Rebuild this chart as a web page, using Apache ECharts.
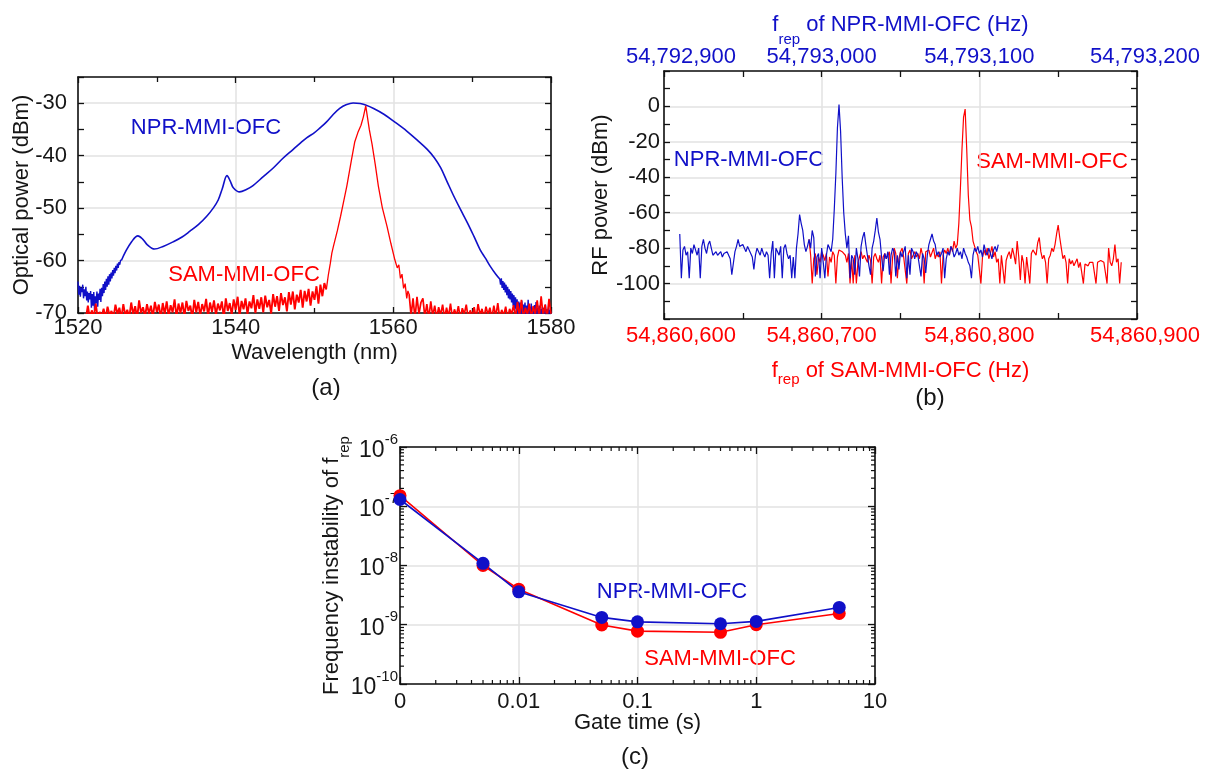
<!DOCTYPE html>
<html><head><meta charset="utf-8">
<script src="https://cdn.jsdelivr.net/npm/echarts@6/dist/echarts.min.js"></script>
<style>html,body{margin:0;padding:0;background:#fff}#c{width:1210px;height:774px}</style>
</head><body><div id="c"></div><script>
// ---------- (a) optical spectra ----------
const nprLeftStart = 1520.0;
const nprNoiseStep = 0.1;
const nprLeftNoise = [-64.0,-66.5,-64.8,-66.9,-65.2,-66.0,-64.6,-67.2,-65.5,-66.8,
 -65.0,-67.6,-65.9,-68.0,-66.2,-67.4,-65.8,-69.0,-66.4,-68.6,
 -66.0,-69.5,-66.8,-68.2,-65.9,-68.8,-66.3,-67.5,-65.4,-67.9,
 -65.2,-66.8,-64.5,-66.2,-64.0,-65.6,-63.5,-65.0,-63.0,-64.6,
 -62.6,-64.0,-62.3,-63.4,-61.8,-62.9,-61.4,-62.4,-61.0,-61.9,
 -60.6,-61.4,-60.3,-60.8,-59.9,-60.0];
const nprBodyNm = [1525.5,1526.0,1526.8,1527.6,1528.2,1528.8,1529.7,1530.8,1532.1,1533.2,1534.2,1535.3,1536.3,1537.2,1537.8,1538.3,1538.9,1539.3,1539.7,1540.5,1541.3,1542.2,1543.5,1544.8,1546.0,1547.3,1548.2,1549.0,1550.0,1550.7,1551.5,1552.4,1553.2,1554.0,1554.9,1555.8,1556.4,1557.5,1558.8,1560.2,1561.7,1563.0,1564.3,1565.2,1566.0,1566.8,1567.6,1568.5,1569.4,1570.2,1571.0,1571.7,1572.3,1573.0,1573.5];
const nprBodyDbm = [-60.0,-58.4,-56.4,-55.3,-55.9,-57.0,-57.8,-57.3,-56.4,-55.5,-54.4,-53.1,-51.6,-49.9,-48.4,-46.3,-43.8,-44.8,-46.1,-46.9,-46.5,-45.7,-44.0,-42.3,-40.5,-38.8,-37.6,-36.6,-35.6,-34.7,-33.6,-32.1,-31.0,-30.3,-29.95,-30.05,-30.3,-31.0,-32.1,-33.6,-35.3,-37.0,-38.8,-40.4,-42.3,-44.9,-47.5,-50.2,-52.8,-55.3,-57.9,-59.6,-61.1,-62.6,-63.5];
const nprRightStart = 1573.5;
const nprRightNoise = [-63.5,-64.6,-63.4,-65.2,-63.9,-65.6,-64.2,-66.1,-64.6,-66.6,
 -65.0,-67.2,-65.5,-67.4,-65.8,-68.0,-66.3,-68.6,-66.6,-69.2,
 -67.0,-69.8,-67.4,-70.5,-67.8,-71.0,-68.0,-70.6,-67.6,-71.0,
 -68.4,-70.2,-68.0,-71.0,-68.6,-70.8,-67.5,-70.5,-68.8,-71.0,
 -68.2,-70.4,-69.0,-71.0,-68.5,-70.6,-67.9,-71.0,-69.0,-70.5,
 -68.6,-71.0,-69.2,-70.8,-68.8,-71.0,-69.0,-70.4,-68.4,-71.0,
 -69.3,-70.6,-68.9,-71.0,-69.4,-70.2];
const samFloorStep = 0.25;
const samLeftStart = 1521.0;
const samLeftFloor = [-71,-68.6,-71,-69.5,-70.8,-68.2,-71,-69.8,
 -70.6,-69.2,-71,-68.8,-70.4,-69.6,-71,-68.4,
 -70.2,-69.0,-71,-68.3,-70.5,-69.4,-70.9,-68.0,
 -70.3,-68.7,-71,-67.6,-70.0,-68.9,-70.7,-68.3,
 -70.1,-68.6,-70.8,-67.9,-69.8,-68.4,-71,-68.1,
 -70.2,-67.8,-70.6,-68.5,-69.9,-67.4,-70.8,-68.2,
 -70.0,-68.0,-70.7,-67.7,-69.6,-68.6,-71,-67.5,
 -69.9,-67.9,-70.5,-68.3,-69.7,-67.3,-70.6,-68.0,
 -69.8,-67.6,-70.4,-68.2,-69.5,-67.8,-70.9,-67.2,
 -69.6,-68.1,-70.3,-67.4,-69.4,-66.9,-70.5,-67.7,
 -69.3,-67.2,-70.2,-67.8,-69.1,-66.6,-70.0,-67.4,
 -69.2,-67.0,-69.9,-66.7,-68.9,-67.5,-70.1,-66.4,
 -68.8,-66.8,-69.6,-66.2,-68.5,-67.0,-69.7,-66.0,
 -68.4,-65.9,-69.3,-66.5,-68.0,-65.6,-69.0,-65.8,
 -67.8,-65.4,-68.6,-65.9,-67.5,-64.9,-68.2,-64.6,
 -66.8,-64.3,-65.5];
const samPeakNm = [1551.5,1551.75,1552.0,1552.2,1552.4,1552.9,1553.3,1553.7,1554.1,1554.7,1555.1,1555.5,1555.9,1556.2,1556.5,1556.7,1556.95,1557.3,1557.7,1558.1,1558.6,1559.2,1559.7,1560.2,1560.5,1560.7,1560.9,1561.1,1561.3,1561.5,1561.7,1561.85,1562.0];
const samPeakDbm = [-65.5,-62.8,-60.6,-58.6,-57.3,-54.3,-51.6,-48.7,-45.8,-40.7,-37.4,-35.6,-34.2,-32.6,-30.5,-30.6,-35.0,-37.8,-41.6,-45.8,-49.9,-53.5,-56.8,-59.9,-61.4,-60.8,-63.4,-62.6,-65.3,-64.4,-67.2,-65.8,-66.4];
const samRightStart = 1562.0;
const samRightFloor = [-66.4,-70.5,-67.2,-71,-66.9,-70.2,-68.0,-67.2,
 -70.8,-68.3,-71,-67.8,-70.6,-68.6,-71,-68.9,
 -70.4,-68.4,-71,-69.0,-70.7,-68.2,-71,-69.3,
 -70.5,-68.7,-71,-69.1,-70.2,-68.4,-71,-69.5,
 -70.6,-68.9,-71,-68.3,-70.4,-69.2,-71,-68.8,
 -70.3,-69.0,-71,-68.6,-70.7,-68.1,-71,-69.4,
 -70.5,-68.8,-71,-69.2,-70.2,-68.5,-71,-67.9,
 -70.6,-67.5,-71,-69.0,-70.4,-68.2,-71,-68.7,
 -70.3,-67.6,-71,-66.8,-70.5,-68.4,-71,-67.3,
 -70.2];
const wlTicks = {min: 1520, max: 1580};
const opTicks = {min: -70, max: -25};

// ---------- (b) RF spectra ----------
const rfStepHz = 1;
const nprRfStartHz = 54792910;
const nprRfDbm = [-72,-97,-81,-79,-84,-82,-97,-80,-83,-78,
 -81,-84,-80,-97,-79,-75,-80,-83,-78,-76,
 -80,-84,-83,-82,-84,-83,-82,-85,-83,-84,
 -82,-83,-86,-95,-94,-82,-79,-75,-79,-78,
 -78,-80,-82,-79,-81,-83,-85,-92,-84,-80,
 -82,-84,-80,-83,-85,-82,-84,-97,-83,-76,
 -97,-80,-82,-84,-79,-97,-80,-78,-83,-86,
 -84,-97,-85,-97,-80,-72,-61,-66,-70,-78,
 -82,-79,-75,-80,-70,-74,-96,-85,-83,-97,
 -80,-88,-97,-84,-78,-78,-82,-75,-58,-38,
 -12,1,-14,-40,-60,-72,-80,-73,-97,-84,
 -86,-95,-80,-86,-96,-79,-74,-71,-78,-84,
 -90,-95,-80,-76,-70,-63,-71,-75,-85,-93,
 -83,-86,-82,-95,-84,-80,-82,-96,-84,-92,
 -82,-85,-82,-79,-97,-84,-95,-80,-82,-86,
 -82,-84,-85,-96,-83,-86,-94,-84,-78,-75,
 -72,-76,-78,-84,-82,-85,-83,-80,-97,-86,
 -82,-84,-79,-81,-85,-83,-80,-84,-82,-86,
 -80,-83,-85,-88,-90,-97,-84,-80,-82,-79,
 -83,-81,-85,-78,-82,-84,-80,-83,-86,-81,
 -79,-82,-78];
const samRfStartHz = 54860692;
const samRfDbm = [-75,-84,-100,-86,-83,-95,-85,-88,
 -82,-84,-87,-83,-96,-85,-88,-82,-84,-100,
 -85,-81,-81,-82,-81,-84,-88,-83,-100,-86,
 -100,-84,-100,-88,-85,-82,-86,-84,-85,-88,
 -84,-87,-100,-85,-83,-86,-88,-84,-100,-85,
 -83,-86,-84,-82,-100,-85,-80,-83,-97,-86,
 -82,-80,-85,-84,-100,-83,-81,-86,-84,-82,
 -85,-83,-86,-80,-84,-100,-82,-83,-81,-85,
 -84,-80,-86,-83,-85,-82,-100,-84,-81,-83,
 -80,-84,-79,-82,-76,-80,-78,-66,-46,-24,
 -6,-1.5,-24,-50,-64,-68,-76,-79,-82,-84,
 -83,-100,-85,-81,-84,-80,-86,-83,-79,-85,
 -82,-88,-86,-100,-84,-83,-100,-87,-84,-82,
 -86,-80,-84,-89,-76,-85,-98,-84,-88,-100,
 -85,-86,-100,-83,-81,-80,-84,-77,-74,-82,
 -86,-84,-88,-100,-86,-84,-80,-82,-78,-72,
 -67,-74,-80,-86,-84,-88,-100,-86,-89,-87,
 -90,-88,-86,-91,-88,-87,-100,-89,-88,-90,
 -88,-88,-88,-89,-100,-88,-88,-87,-88,-88,
 -88,-100,-80,-88,-90,-86,-78,-88,-86,-100,
 -88];
const nprFreqAxis = {min: 54792900, max: 54793200};
const samFreqAxis = {min: 54860600, max: 54860900};
const rfAxis = {min: -120, max: 20};

// ---------- (c) frequency instability ----------
const gateTimes = [0.001, 0.005, 0.01, 0.05, 0.1, 0.5, 1, 5];
const nprInstab = [1.30e-7, 1.09e-8, 3.6e-9, 1.33e-9, 1.12e-9, 1.04e-9, 1.14e-9, 1.96e-9];
const samInstab = [1.51e-7, 1.0e-8, 3.98e-9, 9.9e-10, 7.8e-10, 7.45e-10, 1.0e-9, 1.55e-9];
const logMinorMult = [2,3,4,5,6,7,8,9];
const gateDecades = [0.001, 0.01, 0.1, 1];
const instabDecades = [1e-10, 1e-9, 1e-8, 1e-7];

// ---------- helpers ----------
const seq = (start, step, vals) => vals.map((v, i) => [+(start + i * step).toFixed(3), v]);
const pairs = (xs, ys) => xs.map((x, i) => [x, ys[i]]);

const BLUE = '#1010c8', RED = '#ff0000', TXT = '#161616', GRIDC = '#e2e2e2', AX = '#111';
const FONT = '"Liberation Sans", Arial, sans-serif';
const aLine = {show: true, onZero: false, lineStyle: {color: AX, width: 1.6}};
const tick = (len) => ({show: true, inside: true, length: len, lineStyle: {color: AX, width: 1.3}});
const minor = (len) => ({show: true, splitNumber: 2, length: len, lineStyle: {color: AX, width: 1.3}});
const split = {show: true, lineStyle: {color: GRIDC, width: 1.5}};
const noLbl = {show: false};
const lbl = (extra) => Object.assign({fontSize: 22, color: TXT, fontFamily: FONT}, extra);
const nameSt = (extra) => Object.assign({fontSize: 22, color: TXT, fontFamily: FONT}, extra);
const hzFmt = (ax) => (v) => {
  const s = v.toLocaleString('en-US');
  if (v === ax.min) return '{first|' + s + '}';
  if (v === ax.max) return '{last|' + s + '}';
  return s;
};
const hzRich = (color) => ({first: {fontSize: 22, color, padding: [0, 0, 0, 34]}, last: {fontSize: 22, color, padding: [0, 0, 0, 16]}});

const minorData = [];
gateDecades.forEach(d => logMinorMult.forEach(m => minorData.push([d * m, 1e-10, 0])));
instabDecades.forEach(d => logMinorMult.forEach(m => minorData.push([0.001, d * m, 1])));

const chart = echarts.init(document.getElementById('c'), null, {renderer: 'canvas'});
chart.setOption({
  backgroundColor: '#fff',
  animation: false,
  textStyle: {fontFamily: FONT},
  grid: [
    {left: 78, top: 77, width: 473, height: 236},
    {left: 664, top: 71, width: 473, height: 248},
    {left: 400, top: 447, width: 475, height: 237}
  ],
  xAxis: [
    {gridIndex: 0, type: 'value', position: 'bottom', min: wlTicks.min, max: wlTicks.max, interval: 20,
     axisLine: aLine, axisTick: tick(6), minorTick: minor(5), splitLine: split,
     axisLabel: lbl({margin: 4, formatter: v => String(v)}),
     name: 'Wavelength (nm)', nameLocation: 'middle', nameGap: 29, nameMoveOverlap: false, nameTextStyle: nameSt()},
    {gridIndex: 0, type: 'value', position: 'top', min: wlTicks.min, max: wlTicks.max, interval: 20,
     axisLine: aLine, axisTick: tick(6), minorTick: minor(5), splitLine: {show: false}, axisLabel: noLbl},
    {gridIndex: 1, type: 'value', position: 'bottom', min: samFreqAxis.min, max: samFreqAxis.max, interval: 100,
     axisLine: aLine, axisTick: tick(6), minorTick: minor(6), splitLine: split,
     axisLabel: lbl({color: RED, margin: 6, formatter: hzFmt(samFreqAxis), rich: hzRich(RED)}),
     name: '{m|f}{s|rep}{m| of SAM-MMI-OFC (Hz)}', nameLocation: 'middle', nameGap: 41, nameMoveOverlap: false,
     nameTextStyle: nameSt({color: RED, rich: {m: {fontSize: 22, lineHeight: 22, verticalAlign: 'top', color: RED}, s: {fontSize: 15, lineHeight: 40, color: RED}}})},
    {gridIndex: 1, type: 'value', position: 'top', min: nprFreqAxis.min, max: nprFreqAxis.max, interval: 100,
     axisLine: aLine, axisTick: tick(6), minorTick: minor(6), splitLine: {show: false},
     axisLabel: lbl({color: BLUE, margin: 3, formatter: hzFmt(nprFreqAxis), rich: hzRich(BLUE)}),
     name: '{m|f}{s|rep}{m| of NPR-MMI-OFC (Hz)}', nameLocation: 'middle', nameGap: 5, nameMoveOverlap: false,
     nameTextStyle: nameSt({color: BLUE, rich: {m: {fontSize: 22, lineHeight: 22, verticalAlign: 'top', color: BLUE}, s: {fontSize: 15, lineHeight: 52, color: BLUE}}})},
    {gridIndex: 2, type: 'log', logBase: 10, position: 'bottom', min: 0.001, max: 10,
     axisLine: aLine, axisTick: tick(7), splitLine: split,
     axisLabel: lbl({margin: 7, formatter: v => { const e = Math.round(Math.log10(v)); return e === -3 ? '0' : (e < 0 ? Math.pow(10, e).toFixed(-e) : String(Math.pow(10, e))); }}),
     name: 'Gate time (s)', nameLocation: 'middle', nameGap: 28, nameMoveOverlap: false, nameTextStyle: nameSt()},
    {gridIndex: 2, type: 'log', logBase: 10, position: 'top', min: 0.001, max: 10,
     axisLine: aLine, axisTick: tick(7), splitLine: {show: false}, axisLabel: noLbl}
  ],
  yAxis: [
    {gridIndex: 0, type: 'value', position: 'left', min: opTicks.min, max: opTicks.max, interval: 5,
     axisLine: aLine, axisTick: tick(6), splitLine: {show: false},
     axisLabel: lbl({margin: 11, formatter: v => (v % 10 === 0 ? String(v) : '')}),
     name: 'Optical power (dBm)', nameLocation: 'middle', nameGap: 45, nameMoveOverlap: false, nameTextStyle: nameSt()},
    {gridIndex: 0, type: 'value', position: 'left', min: opTicks.min, max: opTicks.max, interval: 10,
     axisLine: {show: false}, axisTick: {show: false}, axisLabel: noLbl, splitLine: split},
    {gridIndex: 0, type: 'value', position: 'right', min: opTicks.min, max: opTicks.max, interval: 5,
     axisLine: aLine, axisTick: tick(6), splitLine: {show: false}, axisLabel: noLbl},
    {gridIndex: 1, type: 'value', position: 'left', min: rfAxis.min, max: rfAxis.max, interval: 20,
     axisLine: aLine, axisTick: tick(6), minorTick: minor(6), splitLine: split,
     axisLabel: lbl({margin: 4, formatter: v => (v === rfAxis.min || v === rfAxis.max ? '' : String(v))}),
     name: 'RF power (dBm)', nameLocation: 'middle', nameGap: 52, nameMoveOverlap: false, nameTextStyle: nameSt()},
    {gridIndex: 1, type: 'value', position: 'right', min: rfAxis.min, max: rfAxis.max, interval: 20,
     axisLine: aLine, axisTick: tick(6), minorTick: minor(6), splitLine: {show: false}, axisLabel: noLbl},
    {gridIndex: 2, type: 'log', logBase: 10, position: 'left', min: 1e-10, max: 1e-6,
     axisLine: aLine, axisTick: tick(7), splitLine: split,
     axisLabel: lbl({margin: 2, formatter: v => '{b|10}{e|' + Math.round(Math.log10(v)) + '}',
       rich: {b: {fontSize: 23, lineHeight: 30, verticalAlign: 'bottom', color: TXT}, e: {fontSize: 15, lineHeight: 15, verticalAlign: 'top', color: TXT}}}),
     name: '{m|Frequency instability of f}{s|rep}', nameLocation: 'middle', nameGap: 31, nameMoveOverlap: false,
     nameTextStyle: nameSt({rich: {m: {fontSize: 22, lineHeight: 22, verticalAlign: 'top', color: TXT}, s: {fontSize: 15, lineHeight: 48, color: TXT}}})},
    {gridIndex: 2, type: 'log', logBase: 10, position: 'right', min: 1e-10, max: 1e-6,
     axisLine: aLine, axisTick: tick(7), splitLine: {show: false}, axisLabel: noLbl}
  ],
  series: [
    {type: 'line', xAxisIndex: 0, yAxisIndex: 0, data: seq(nprLeftStart, nprNoiseStep, nprLeftNoise), symbol: 'none', lineStyle: {color: BLUE, width: 1.4}},
    {type: 'line', xAxisIndex: 0, yAxisIndex: 0, data: pairs(nprBodyNm, nprBodyDbm), smooth: 0.35, symbol: 'none', lineStyle: {color: BLUE, width: 1.6}},
    {type: 'line', xAxisIndex: 0, yAxisIndex: 0, data: seq(nprRightStart, nprNoiseStep, nprRightNoise), symbol: 'none', lineStyle: {color: BLUE, width: 1.4}},
    {type: 'line', xAxisIndex: 0, yAxisIndex: 0, data: seq(samLeftStart, samFloorStep, samLeftFloor), symbol: 'none', lineStyle: {color: RED, width: 1.9}},
    {type: 'line', xAxisIndex: 0, yAxisIndex: 0, data: pairs(samPeakNm, samPeakDbm), symbol: 'none', lineStyle: {color: RED, width: 1.3}},
    {type: 'line', xAxisIndex: 0, yAxisIndex: 0, data: seq(samRightStart, samFloorStep, samRightFloor), symbol: 'none', lineStyle: {color: RED, width: 1.7}},
    {type: 'line', xAxisIndex: 2, yAxisIndex: 3, data: seq(samRfStartHz, rfStepHz, samRfDbm), symbol: 'none', lineStyle: {color: RED, width: 1.2}},
    {type: 'line', xAxisIndex: 3, yAxisIndex: 3, data: seq(nprRfStartHz, rfStepHz, nprRfDbm), symbol: 'none', lineStyle: {color: BLUE, width: 1.2}},
    {type: 'line', xAxisIndex: 4, yAxisIndex: 5, data: pairs(gateTimes, samInstab), symbol: 'circle', symbolSize: 13, lineStyle: {color: RED, width: 1.6}, itemStyle: {color: RED}},
    {type: 'line', xAxisIndex: 4, yAxisIndex: 5, data: pairs(gateTimes, nprInstab), symbol: 'circle', symbolSize: 13, lineStyle: {color: BLUE, width: 1.6}, itemStyle: {color: BLUE}},
    {type: 'custom', xAxisIndex: 4, yAxisIndex: 5, data: minorData, silent: true, clip: false, z: 5,
     renderItem: (params, api) => {
       const cs = params.coordSys;
       const p = api.coord([api.value(0), api.value(1)]);
       const L = 4, st = {stroke: AX, lineWidth: 1.2};
       if (api.value(2) === 0) {
         return {type: 'group', children: [
           {type: 'line', shape: {x1: p[0], y1: cs.y + cs.height, x2: p[0], y2: cs.y + cs.height - L}, style: st},
           {type: 'line', shape: {x1: p[0], y1: cs.y, x2: p[0], y2: cs.y + L}, style: st}]};
       }
       return {type: 'group', children: [
         {type: 'line', shape: {x1: cs.x, y1: p[1], x2: cs.x + L, y2: p[1]}, style: st},
         {type: 'line', shape: {x1: cs.x + cs.width, y1: p[1], x2: cs.x + cs.width - L, y2: p[1]}, style: st}]};
     }}
  ],
  graphic: [
    {type: 'text', x: 206, y: 128, style: {text: 'NPR-MMI-OFC', fill: BLUE, font: '22px ' + FONT, textAlign: 'center', textVerticalAlign: 'middle'}},
    {type: 'text', x: 244, y: 275, style: {text: 'SAM-MMI-OFC', fill: RED, font: '22px ' + FONT, textAlign: 'center', textVerticalAlign: 'middle'}},
    {type: 'text', x: 749, y: 160, style: {text: 'NPR-MMI-OFC', fill: BLUE, font: '22px ' + FONT, textAlign: 'center', textVerticalAlign: 'middle'}},
    {type: 'text', x: 1052, y: 162, style: {text: 'SAM-MMI-OFC', fill: RED, font: '22px ' + FONT, textAlign: 'center', textVerticalAlign: 'middle'}},
    {type: 'text', x: 672, y: 592, style: {text: 'NPR-MMI-OFC', fill: BLUE, font: '22px ' + FONT, textAlign: 'center', textVerticalAlign: 'middle'}},
    {type: 'text', x: 720, y: 659, style: {text: 'SAM-MMI-OFC', fill: RED, font: '22px ' + FONT, textAlign: 'center', textVerticalAlign: 'middle'}},
    {type: 'text', x: 326, y: 388, style: {text: '(a)', fill: TXT, font: '24px ' + FONT, textAlign: 'center', textVerticalAlign: 'middle'}},
    {type: 'text', x: 930, y: 398, style: {text: '(b)', fill: TXT, font: '24px ' + FONT, textAlign: 'center', textVerticalAlign: 'middle'}},
    {type: 'text', x: 635, y: 757, style: {text: '(c)', fill: TXT, font: '24px ' + FONT, textAlign: 'center', textVerticalAlign: 'middle'}}
  ]
});
</script></body></html>
